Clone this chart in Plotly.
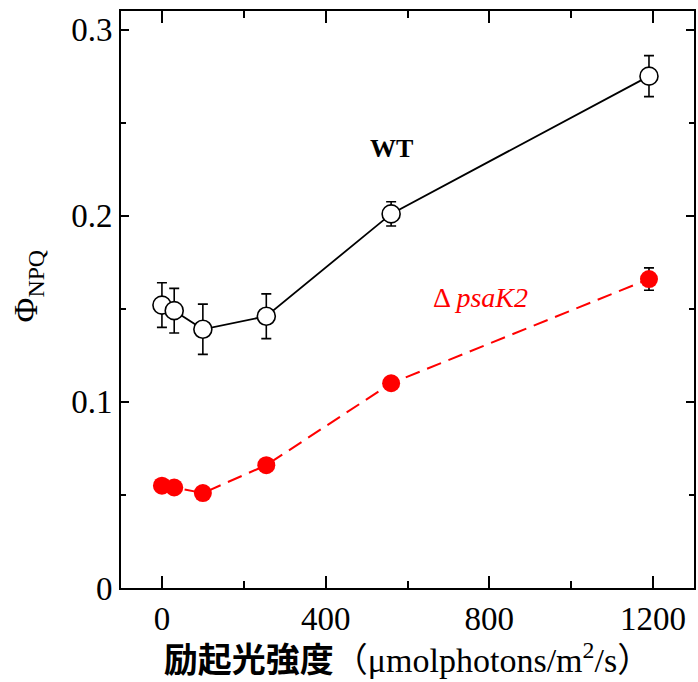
import plotly.graph_objects as go

# Data
light = [0, 30, 100, 255, 560, 1190]
wt_y = [0.152, 0.149, 0.139, 0.146, 0.201, 0.275]
wt_err = [0.012, 0.012, 0.0135, 0.012, 0.0065, 0.011]
mut_y = [0.055, 0.054, 0.051, 0.066, 0.110, 0.166]
mut_err = [0.002, 0.002, 0.002, 0.002, 0.003, 0.006]

x_ticks = [0, 400, 800, 1200]
y_ticks = [0, 0.1, 0.2, 0.3]
y_tick_text = ["0", "0.1", "0.2", "0.3"]

SERIF = "Liberation Serif, Noto Sans CJK JP, serif"

fig = go.Figure()

fig.add_trace(go.Scatter(
    x=light, y=mut_y, mode="lines+markers", name="ΔpsaK2",
    line=dict(color="#ff0000", width=2, dash="15px,8px"),
    marker=dict(symbol="circle", size=18, color="#ff0000",
                line=dict(color="#ff0000", width=0)),
    error_y=dict(type="data", array=mut_err, visible=True,
                 color="black", thickness=1.6, width=5),
))

fig.add_trace(go.Scatter(
    x=light, y=wt_y, mode="lines+markers", name="WT",
    line=dict(color="black", width=1.8),
    marker=dict(symbol="circle", size=18, color="white",
                line=dict(color="black", width=1.6)),
    error_y=dict(type="data", array=wt_err, visible=True,
                 color="black", thickness=1.6, width=5),
))

fig.add_annotation(x=561, y=0.236, xref="x", yref="y",
                   text="<b>WT</b>", showarrow=False,
                   font=dict(family="Liberation Serif", size=26, color="black"))
fig.add_annotation(x=779, y=0.156, xref="x", yref="y",
                   text="Δ <i>psaK2</i>", showarrow=False,
                   font=dict(family="Liberation Serif", size=28, color="#ff0000"))

# y-axis title (Φ_NPQ), rotated
fig.add_annotation(x=-0.163, y=0.522, xref="paper", yref="paper",
                   text="Φ<sub>NPQ</sub>", showarrow=False, textangle=-90,
                   xanchor="center", yanchor="middle",
                   font=dict(family=SERIF, size=34, color="black"))

fig.update_layout(
    width=698, height=682,
    margin=dict(l=121, r=2, t=11, b=94),
    paper_bgcolor="white", plot_bgcolor="white",
    showlegend=False,
    font=dict(family=SERIF, size=30, color="black"),
)

fig.update_xaxes(
    range=[-100, 1300],
    tickvals=x_ticks, ticktext=[str(v) for v in x_ticks],
    ticks="inside", ticklen=12, tickwidth=1.5, tickcolor="black",
    minor=dict(tickvals=[200, 600, 1000], ticks="inside", ticklen=7,
               tickwidth=1.5, tickcolor="black"),
    showline=True, linecolor="black", linewidth=2, mirror="ticks",
    showgrid=False, zeroline=False,
    tickfont=dict(family=SERIF, size=33, color="black"),
    title=dict(
        text="<b>励起光強度</b>（μmolphotons/m<sup>2</sup>/s）",
        font=dict(family="Liberation Serif, Noto Sans CJK JP", size=34, color="black"),
        standoff=4,
    ),
)

fig.update_yaxes(
    range=[0, 0.31],
    tickvals=y_ticks, ticktext=y_tick_text,
    ticks="inside", ticklen=8, tickwidth=1.5, tickcolor="black",
    minor=dict(tickvals=[0.05, 0.15, 0.25], ticks="inside", ticklen=5,
               tickwidth=1.5, tickcolor="black"),
    showline=True, linecolor="black", linewidth=2, mirror="ticks",
    showgrid=False, zeroline=False,
    tickfont=dict(family=SERIF, size=33, color="black"),
)

fig.write_html("out.html")
